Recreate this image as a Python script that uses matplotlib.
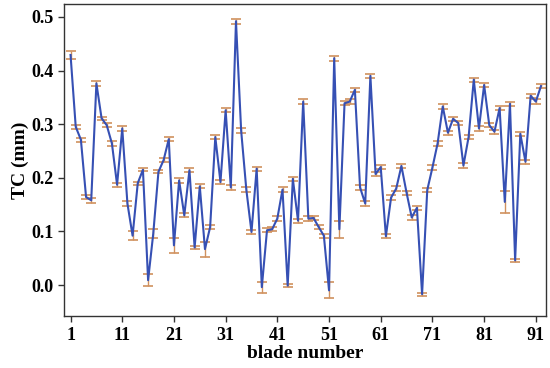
import matplotlib
matplotlib.use("Agg")
import matplotlib.pyplot as plt
import numpy as np

# blade clearance per blade
blade = np.arange(1, 93)
tc = [0.429, 0.295, 0.271, 0.164, 0.158, 0.376, 0.311, 0.298, 0.264, 0.187,
      0.292, 0.152, 0.092, 0.190, 0.215, 0.009, 0.096, 0.211, 0.233, 0.272,
      0.074, 0.195, 0.130, 0.214, 0.070, 0.184, 0.067, 0.108, 0.276, 0.192,
      0.326, 0.182, 0.492, 0.288, 0.178, 0.099, 0.217, -0.004, 0.102, 0.104,
      0.124, 0.178, -0.001, 0.198, 0.120, 0.342, 0.124, 0.125, 0.108, 0.092,
      -0.010, 0.423, 0.104, 0.339, 0.342, 0.364, 0.182, 0.152, 0.390, 0.207,
      0.220, 0.091, 0.163, 0.180, 0.222, 0.172, 0.126, 0.144, -0.017, 0.177,
      0.219, 0.264, 0.333, 0.284, 0.310, 0.302, 0.223, 0.276, 0.383, 0.292,
      0.373, 0.298, 0.286, 0.330, 0.155, 0.338, 0.046, 0.282, 0.230, 0.353,
      0.342, 0.371]
err = [0.007, 0.004, 0.004, 0.004, 0.005, 0.004, 0.003, 0.004, 0.004, 0.004,
       0.004, 0.004, 0.008, 0.003, 0.003, 0.011, 0.009, 0.003, 0.004, 0.004,
       0.014, 0.004, 0.004, 0.004, 0.003, 0.004, 0.014, 0.003, 0.004, 0.004,
       0.004, 0.004, 0.005, 0.004, 0.004, 0.004, 0.004, 0.010, 0.004, 0.004,
       0.004, 0.004, 0.003, 0.004, 0.004, 0.004, 0.004, 0.004, 0.004, 0.004,
       0.015, 0.005, 0.016, 0.004, 0.004, 0.004, 0.004, 0.004, 0.004, 0.004,
       0.004, 0.004, 0.004, 0.004, 0.004, 0.004, 0.004, 0.004, 0.003, 0.004,
       0.004, 0.004, 0.004, 0.004, 0.004, 0.004, 0.004, 0.004, 0.004, 0.004,
       0.004, 0.004, 0.004, 0.004, 0.020, 0.004, 0.003, 0.004, 0.004, 0.004,
       0.004, 0.004]
xticks = np.arange(1, 92, 10)

plt.rcParams['font.family'] = ['Liberation Serif', 'DejaVu Serif']
plt.rcParams['font.weight'] = 'bold'

fig = plt.figure(figsize=(5.5, 3.68), dpi=100)
ax = fig.add_axes([0.117, 0.141, 0.876, 0.848])

ax.errorbar(blade, tc, yerr=err, fmt='none', ecolor='#d0915e', elinewidth=1,
            capsize=3.5, capthick=1.2, zorder=2)
ax.plot(blade, tc, color='#3650b4', lw=1.5, zorder=3)

ax.set_xlim(-0.2, 93)
ax.set_ylim(-0.058, 0.524)
ax.set_xticks(xticks)
ax.set_yticks([0.0, 0.1, 0.2, 0.3, 0.4, 0.5])
ax.set_yticklabels(['0.0', '0.1', '0.2', '0.3', '0.4', '0.5'])
ax.tick_params(labelsize=13, length=4, width=1, color='#333333', direction='out')
for s in ax.spines.values():
    s.set_color('#333333')
    s.set_linewidth(1.0)

ax.set_xlabel('blade number', fontsize=14, fontweight='bold', labelpad=1)
ax.set_ylabel('TC (mm)', fontsize=14, fontweight='bold', labelpad=2)

fig.savefig('out.png', dpi=100)
